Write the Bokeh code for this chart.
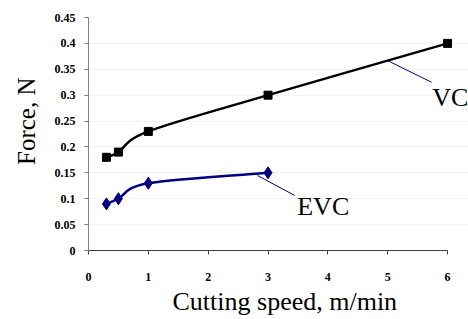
import numpy as np
from bokeh.plotting import figure
from bokeh.models import FixedTicker, Title, Label
from bokeh.embed import file_html
from bokeh.resources import INLINE

# ---- data ----
speed_vc = [0.3, 0.5, 1, 3, 6]
force_vc = [0.18, 0.19, 0.23, 0.30, 0.40]
speed_evc = [0.3, 0.5, 1, 3]
force_evc = [0.09, 0.10, 0.13, 0.15]
x_ticks = [0, 1, 2, 3, 4, 5, 6]
y_ticks = [0, 0.05, 0.1, 0.15, 0.2, 0.25, 0.3, 0.35, 0.4, 0.45]
y_tick_labels = ["0", "0.05", "0.1", "0.15", "0.2", "0.25", "0.3", "0.35", "0.4", "0.45"]
x_title = "Cutting speed, m/min"
y_title = "Force, N"
series_names = ["VC", "EVC"]

SERIF = "Liberation Serif"
NAVY = "#000080"


def smooth_segments(xs, ys):
    """Catmull-Rom style bezier control points (like a smoothed spreadsheet line)."""
    x = np.asarray(xs, float)
    y = np.asarray(ys, float)
    n = len(x)
    xp = np.concatenate([[x[0]], x, [x[-1]]])
    yp = np.concatenate([[y[0]], y, [y[-1]]])
    out = {k: [] for k in ("x0", "y0", "x1", "y1", "cx0", "cy0", "cx1", "cy1")}
    for i in range(n - 1):
        j = i + 1
        out["x0"].append(x[i]); out["y0"].append(y[i])
        out["x1"].append(x[i + 1]); out["y1"].append(y[i + 1])
        out["cx0"].append(x[i] + (xp[j + 1] - xp[j - 1]) / 6)
        out["cy0"].append(y[i] + (yp[j + 1] - yp[j - 1]) / 6)
        out["cx1"].append(x[i + 1] - (xp[j + 2] - xp[j]) / 6)
        out["cy1"].append(y[i + 1] - (yp[j + 2] - yp[j]) / 6)
    return out


p = figure(width=468, height=319, x_range=(0, 6.35), y_range=(0, 0.45),
           output_backend="svg", toolbar_location=None,
           min_border_left=88, min_border_right=0, min_border_top=17, min_border_bottom=69)
p.outline_line_color = None
p.background_fill_color = "white"

# axes
for ax in (p.xaxis, p.yaxis):
    ax.major_label_text_font = SERIF
    ax.major_label_text_font_style = "bold"
    ax.major_label_text_font_size = "12px"
    ax.major_label_text_color = "black"
    ax.minor_tick_line_color = None
    ax.major_tick_in = 0
    ax.major_tick_out = 4

p.xaxis.ticker = FixedTicker(ticks=x_ticks)
p.xaxis.bounds = (0, 6)
p.xaxis.axis_line_color = "#404040"
p.xaxis.major_tick_line_color = "#404040"
p.xaxis.major_label_standoff = 18

p.yaxis.ticker = FixedTicker(ticks=y_ticks)
p.yaxis.bounds = (0, 0.45)
p.yaxis.major_label_overrides = {t: l for t, l in zip(y_ticks, y_tick_labels)}
p.yaxis.axis_line_color = "#808080"
p.yaxis.major_tick_line_color = "#808080"
p.yaxis.major_label_standoff = 9

p.xgrid.visible = False
p.ygrid.grid_line_color = "#f2f2f2"
p.ygrid.bounds = (0, 6)

# axis titles
p.add_layout(Title(text=x_title, align="left", offset=84, standoff=2, text_font=SERIF,
                   text_font_size="26px", text_font_style="normal", text_color="black"), "below")
p.add_layout(Title(text=y_title, align="right", offset=60, standoff=20, vertical_align="top",
                   text_font=SERIF, text_font_size="25px", text_font_style="normal",
                   text_color="black"), "left")

# series
vc = smooth_segments(speed_vc, force_vc)
evc = smooth_segments(speed_evc, force_evc)
p.bezier(source=vc, x0="x0", y0="y0", x1="x1", y1="y1", cx0="cx0", cy0="cy0",
         cx1="cx1", cy1="cy1", line_color="black", line_width=2.5)
p.bezier(source=evc, x0="x0", y0="y0", x1="x1", y1="y1", cx0="cx0", cy0="cy0",
         cx1="cx1", cy1="cy1", line_color=NAVY, line_width=2.5)
p.scatter(speed_vc, force_vc, marker="square", size=8, color="black")
p.scatter(speed_evc, force_evc, marker="diamond", size=12, color=NAVY)

# leader lines and series labels
p.segment(x0=[4.992, 2.824], y0=[0.367, 0.1448], x1=[5.732, 3.447], y1=[0.325, 0.1062],
          line_color=NAVY, line_width=1)
p.add_layout(Label(x=5.744, y=0.296, text=series_names[0], text_font=SERIF,
                   text_font_size="26px", text_baseline="alphabetic", text_color="black"))
p.add_layout(Label(x=3.488, y=0.0856, text=series_names[1], text_font=SERIF,
                   text_font_size="26px", text_baseline="alphabetic", text_color="black"))

open("out.html", "w").write(file_html(p, INLINE))
